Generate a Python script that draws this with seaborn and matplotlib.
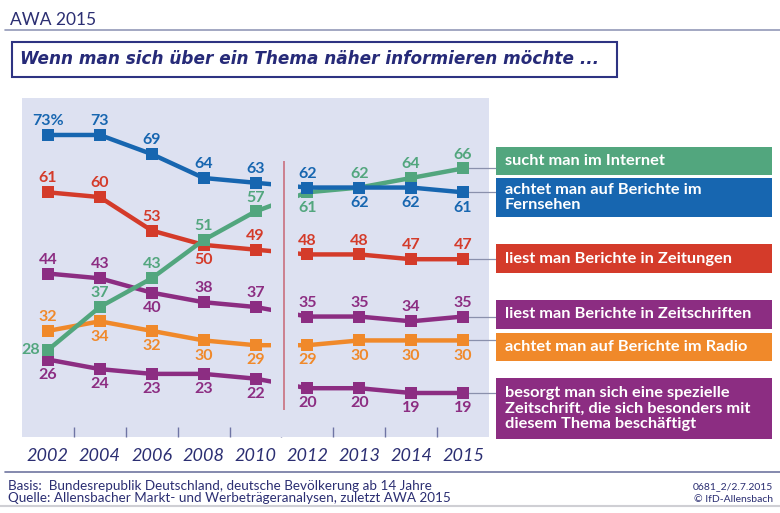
import numpy as np
import pandas as pd
import seaborn as sns
import matplotlib.pyplot as plt
from matplotlib.patches import Rectangle

# Daten (AWA 2002-2015)
years = ['2002', '2004', '2006', '2008', '2010', '2012', '2013', '2014', '2015']
internet = [28, 37, 43, 51, 57, 61, 62, 64, 66]
fernsehen = [73, 73, 69, 64, 63, 62, 62, 62, 61]
zeitungen = [61, 60, 53, 50, 49, 48, 48, 47, 47]
zeitschriften = [44, 43, 40, 38, 37, 35, 35, 34, 35]
radio = [32, 34, 32, 30, 29, 29, 30, 30, 30]
spezial = [26, 24, 23, 23, 22, 20, 20, 19, 19]

legend_texts = {
    'internet': 'sucht man im Internet',
    'fernsehen': 'achtet man auf Berichte im\nFernsehen',
    'zeitungen': 'liest man Berichte in Zeitungen',
    'zeitschriften': 'liest man Berichte in Zeitschriften',
    'radio': 'achtet man auf Berichte im Radio',
    'spezial': 'besorgt man sich eine spezielle\nZeitschrift, die sich besonders mit\ndiesem Thema beschäftigt',
}

colors = {
    'internet': '#52A67E',
    'fernsehen': '#1766B0',
    'zeitungen': '#D43B2A',
    'zeitschriften': '#8C2D82',
    'radio': '#F0892A',
    'spezial': '#8C2D82',
}

# a = oberhalb, b = unterhalb, l = links
label_pos = {
    'internet': 'laaaabaaa',
    'fernsehen': 'aaaaaabbb',
    'zeitungen': 'aaabaaaaa',
    'zeitschriften': 'aabaaaaaa',
    'radio': 'abbbbbbbb',
    'spezial': 'bbbbbbbbb',
}

# Legendenboxen (Pixel oben/unten)
box_rows = {
    'internet': (147, 175),
    'fernsehen': (178, 217),
    'zeitungen': (244, 273),
    'zeitschriften': (300, 329),
    'radio': (333, 361),
    'spezial': (378, 439),
}

values = {
    'internet': internet, 'fernsehen': fernsehen, 'zeitungen': zeitungen,
    'zeitschriften': zeitschriften, 'radio': radio, 'spezial': spezial,
}
draw_order = ['radio', 'spezial', 'zeitschriften', 'zeitungen', 'internet', 'fernsehen']

rows = []
for key in draw_order:
    for i, v in enumerate(values[key]):
        rows.append({'serie': key, 'x': i, 'jahr': years[i], 'wert': v})
df = pd.DataFrame(rows)

sns.set_theme(style='white')
plt.rcParams['font.family'] = ['Lato', 'DejaVu Sans']

navy = '#2B2E72'
panel = '#DDE1F1'
W, H = 780, 513

fig = plt.figure(figsize=(7.8, 5.13), dpi=100)
fig.patch.set_facecolor('white')


def fx(px):
    return px / W


def fy(py):
    return 1 - py / H


ax = fig.add_axes([fx(22), fy(437), fx(489) - fx(22), fy(98) - fy(437)])
ax.set_facecolor(panel)

sns.lineplot(data=df, x='x', y='wert', hue='serie', hue_order=draw_order,
             palette=colors, marker='s', markersize=9, markeredgewidth=0,
             linewidth=3.2, errorbar=None, sort=False, legend=False, ax=ax)

ax.set_xlim(-0.5, 8.5)
ax.set_ylim(9.79, 80.74)

# Lücke zwischen 2010 und 2012
ax.axvspan(4.29, 4.81, color=panel, zorder=3, lw=0)
ax.vlines(4.55, 15.45, 67.56, color='#C9707E', lw=1.2, zorder=4)

for s in ax.spines.values():
    s.set_visible(False)
ax.set_xticks(range(len(years)))
ax.set_xticklabels(years)
ax.set_xticks(np.arange(0.5, len(years) - 1, 1.0), minor=True)
ax.tick_params(axis='x', which='major', length=0, pad=8, labelsize=13,
               labelcolor=navy)
ax.tick_params(axis='x', which='minor', direction='in', length=7, width=1,
               color='#6E74A4', bottom=True)
for t in ax.get_xticklabels():
    t.set_fontstyle('italic')
ax.set_yticks([])
ax.set_xlabel('')
ax.set_ylabel('')

# Wertelabels
for key in draw_order:
    for i, v in enumerate(values[key]):
        p = label_pos[key][i]
        txt = f'{v}%' if (key == 'fernsehen' and i == 0) else f'{v}'
        if p == 'a':
            off = (0, 10)
        elif p == 'b':
            off = (0, -11)
        else:
            off = (-12.5, 0)
        ax.annotate(txt, (i, v), xytext=off, textcoords='offset points',
                    ha='center', va='center', fontsize=11.5, fontweight='bold',
                    color=colors[key], zorder=6)

# Verbindungslinien zu den Boxen
xmin, xmax = ax.get_xlim()
x_end = xmin + (496 - 22) / (489 - 22) * (xmax - xmin)
for key in draw_order:
    v = values[key][-1]
    ax.plot([len(years) - 1, x_end], [v, v], color='#8A90AC', lw=0.9,
            clip_on=False, zorder=1)

# Legendenboxen
for key, (top, bot) in box_rows.items():
    fig.patches.append(Rectangle((fx(496), fy(bot)), fx(772) - fx(496),
                                 fy(top) - fy(bot), transform=fig.transFigure,
                                 facecolor=colors[key], edgecolor='none'))
    fig.text(fx(505), fy((top + bot) / 2), legend_texts[key], color='white',
             fontsize=11.8, fontweight='bold', ha='left', va='center',
             linespacing=1.12)

# Kopf
fig.text(fx(10), fy(20), 'AWA 2015', color=navy, fontsize=12.5, va='center')
fig.add_artist(plt.Line2D([fx(5), 1], [fy(30), fy(30)], color='#9298B8',
                          lw=1.2, transform=fig.transFigure))
fig.patches.append(Rectangle((fx(12), fy(77)), fx(617) - fx(12),
                             fy(42) - fy(77), transform=fig.transFigure,
                             facecolor='white', edgecolor='#2E3382', lw=1.5))
fig.text(fx(20), fy(59), 'Wenn man sich über ein Thema näher informieren möchte ...',
         color='#262A78', fontsize=12.2, fontweight='bold', fontstyle='italic',
         family=['DejaVu Sans'], va='center')

# Fuß
fig.add_artist(plt.Line2D([fx(5), 1], [fy(472), fy(472)], color='#7076A0',
                          lw=1.2, transform=fig.transFigure))
fig.add_artist(plt.Line2D([0, 1], [fy(506), fy(506)], color='#CFCFD4',
                          lw=1.5, transform=fig.transFigure))
fig.text(fx(8), fy(485.5), 'Basis:  Bundesrepublik Deutschland, deutsche Bevölkerung ab 14 Jahre',
         color=navy, fontsize=9.7, va='center')
fig.text(fx(8), fy(497.5), 'Quelle: Allensbacher Markt- und Werbeträgeranalysen, zuletzt AWA 2015',
         color=navy, fontsize=9.7, va='center')
fig.text(fx(773), fy(487), '0681_2/2.7.2015', color=navy, fontsize=7.5,
         ha='right', va='center')
fig.text(fx(773), fy(499), '© IfD-Allensbach', color=navy, fontsize=7.5,
         ha='right', va='center')

fig.savefig('out.png', dpi=100, facecolor='white')
